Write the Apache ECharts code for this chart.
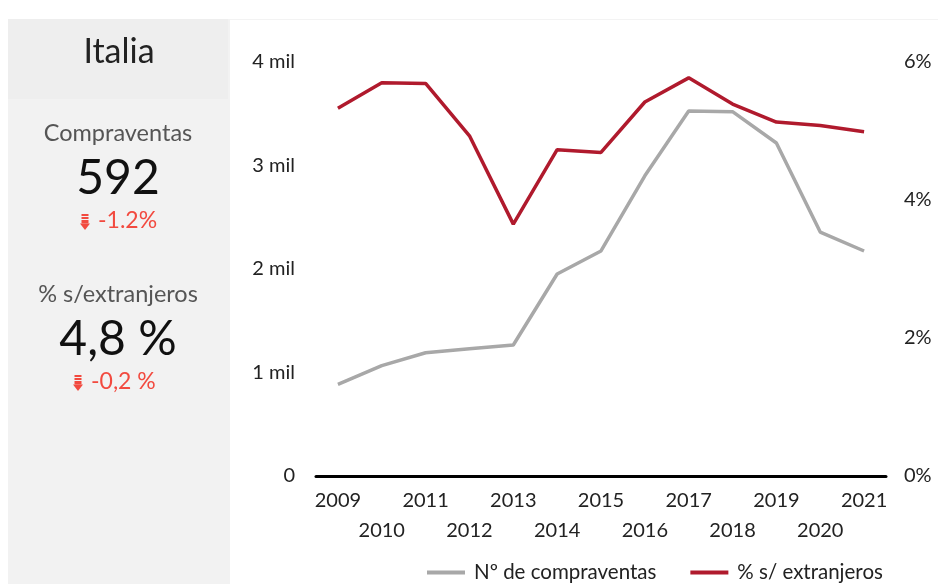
<!DOCTYPE html>
<html>
<head>
<meta charset="utf-8">
<script src="https://cdn.jsdelivr.net/npm/echarts@6/dist/echarts.min.js"></script>
<style>
  html, body { margin: 0; padding: 0; background: #ffffff; }
  #chart { width: 938px; height: 584px; }
</style>
</head>
<body>
<div id="chart"></div>
<script>
// Years on the category axis
const years = ['2009','2010','2011','2012','2013','2014','2015','2016','2017','2018','2019','2020','2021'];
// Number of sales (compraventas) per year
const compraventas = [886, 1066, 1191, 1230, 1266, 1952, 2174, 2900, 3527, 3520, 3217, 2357, 2174];
// Share of sales to foreigners, in percent
const extranjeros = [5.33, 5.70, 5.69, 4.93, 3.65, 4.73, 4.69, 5.42, 5.77, 5.39, 5.13, 5.08, 4.99];
// Series names shown in the legend
const seriesNames = ['Nº de compraventas', '% s/ extranjeros'];
// Summary panel texts
const regionName = 'Italia';
const panelItems = [
  { title: 'Compraventas', value: '592', change: '-1.2%' },
  { title: '% s/extranjeros', value: '4,8 %', change: '-0,2 %' }
];

const FONT = 'Lato, "Noto Sans", sans-serif';
const RED_TXT = '#f24a3f';

function downArrow(cx, top) {
  // small striped down-arrow drawn next to each change value
  return {
    type: 'group',
    children: [
      { type: 'rect', shape: { x: cx - 3.5, y: top, width: 7, height: 2 }, style: { fill: RED_TXT } },
      { type: 'rect', shape: { x: cx - 3.5, y: top + 3, width: 7, height: 2 }, style: { fill: RED_TXT } },
      { type: 'rect', shape: { x: cx - 3.5, y: top + 6, width: 7, height: 3.5 }, style: { fill: RED_TXT } },
      { type: 'polygon', shape: { points: [[cx - 5, top + 9.5], [cx + 5, top + 9.5], [cx, top + 16]] }, style: { fill: RED_TXT } }
    ]
  };
}

const graphics = [
  { type: 'rect', shape: { x: 229, y: 19, width: 709, height: 1 }, style: { fill: '#f3f3f3' }, z: -1 },
  { type: 'rect', shape: { x: 8, y: 19, width: 222, height: 565 }, style: { fill: '#f2f2f2' }, z: -1 },
  { type: 'rect', shape: { x: 8, y: 19, width: 220, height: 80 }, style: { fill: '#eeeeee' }, z: -1 },
  { type: 'text', x: 119, y: 52, style: { text: regionName, font: '34px ' + FONT, fill: '#222222', align: 'center', verticalAlign: 'middle' } }
];

panelItems.forEach((it, i) => {
  const base = 133 + i * 161;
  const shift = i ? 7 : 0;
  graphics.push(
    { type: 'text', x: 118, y: base, style: { text: it.title, font: '23.5px ' + FONT, fill: '#555555', align: 'center', verticalAlign: 'middle' } },
    { type: 'text', x: 118, y: base + 46, style: { text: it.value, font: '48px ' + FONT, fill: '#111111', align: 'center', verticalAlign: 'middle' } },
    { type: 'text', x: 98 - shift, y: base + 88, style: { text: it.change, font: '23px ' + FONT, fill: RED_TXT, align: 'left', verticalAlign: 'middle' } },
    downArrow(85 - shift, base + 81)
  );
});

const chart = echarts.init(document.getElementById('chart'), null, { renderer: 'canvas' });

chart.setOption({
  backgroundColor: '#ffffff',
  animation: false,
  graphic: graphics,
  grid: { left: 316, right: 52, top: 62, bottom: 108, containLabel: false },
  legend: {
    data: seriesNames,
    left: 422,
    top: 557,
    icon: 'rect',
    itemWidth: 38,
    itemHeight: 4,
    itemGap: 34,
    textStyle: { fontFamily: FONT, fontSize: 20.5, color: '#222222', padding: [0, 0, 0, 4] }
  },
  xAxis: {
    type: 'category',
    data: years,
    boundaryGap: true,
    axisLine: { show: true, lineStyle: { color: '#000000', width: 3 } },
    axisTick: { show: false },
    axisLabel: {
      interval: 0,
      margin: 10,
      fontFamily: FONT,
      fontSize: 20,
      color: '#222222',
      lineHeight: 30,
      formatter: (v, i) => (i % 2 ? '\n' + v : v)
    },
    splitLine: { show: false }
  },
  yAxis: [
    {
      type: 'value',
      min: 0,
      max: 4000,
      interval: 1000,
      axisLine: { show: false },
      axisTick: { show: false },
      splitLine: { show: false },
      axisLabel: {
        margin: 21,
        fontFamily: FONT,
        fontSize: 20,
        color: '#222222',
        formatter: v => (v === 0 ? '0' : (v / 1000) + ' mil')
      }
    },
    {
      type: 'value',
      min: 0,
      max: 6,
      interval: 2,
      position: 'right',
      axisLine: { show: false },
      axisTick: { show: false },
      splitLine: { show: false },
      axisLabel: {
        margin: 18,
        fontFamily: FONT,
        fontSize: 20,
        color: '#222222',
        formatter: v => v + '%'
      }
    }
  ],
  series: [
    {
      name: seriesNames[0],
      type: 'line',
      yAxisIndex: 0,
      data: compraventas,
      symbol: 'none',
      lineStyle: { color: '#a8a8a8', width: 3.5 },
      itemStyle: { color: '#a8a8a8' }
    },
    {
      name: seriesNames[1],
      type: 'line',
      yAxisIndex: 1,
      data: extranjeros,
      symbol: 'none',
      lineStyle: { color: '#b01a2d', width: 3.5 },
      itemStyle: { color: '#b01a2d' }
    }
  ]
});
</script>
</body>
</html>
